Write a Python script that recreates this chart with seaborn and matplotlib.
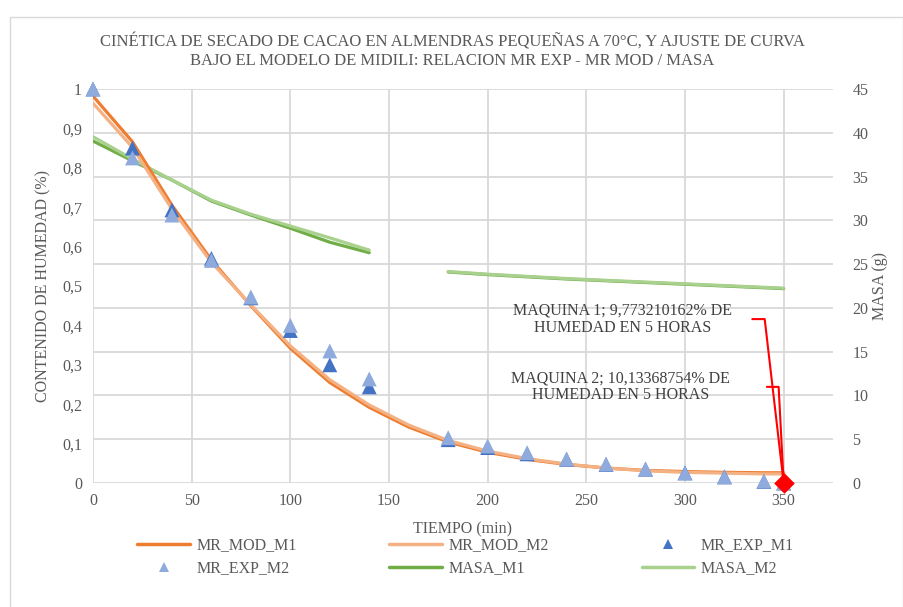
import numpy as np
import pandas as pd
import seaborn as sns
import matplotlib.pyplot as plt
from matplotlib.lines import Line2D
from matplotlib.patches import Rectangle
from matplotlib.ticker import FuncFormatter, MultipleLocator

# datos
tiempo = [0, 20, 40, 60, 80, 100, 120, 140, 160, 180, 200, 220, 240, 260, 280, 300, 320, 340, 350]
mr_mod_m1 = [0.982, 0.866, 0.705, 0.566, 0.450, 0.342, 0.255, 0.192, 0.142, 0.104, 0.078,
             0.060, 0.047, 0.038, 0.032, 0.029, 0.027, 0.026, 0.026]
mr_mod_m2 = [0.964, 0.852, 0.695, 0.560, 0.452, 0.348, 0.262, 0.198, 0.147, 0.108, 0.081,
             0.062, 0.048, 0.038, 0.031, 0.027, 0.025, 0.023, 0.023]
mr_exp_m1 = [1.0, 0.850, 0.693, 0.570, 0.470, 0.387, 0.300, 0.244, np.nan, 0.110, 0.090,
             0.074, 0.060, 0.047, 0.035, 0.026, 0.016, 0.004, 0.0]
mr_exp_m2 = [1.0, 0.825, 0.680, 0.565, 0.472, 0.400, 0.335, 0.264, np.nan, 0.115, 0.094,
             0.077, 0.061, 0.048, 0.036, 0.025, 0.015, 0.005, 0.0]
masa_m1 = [39.06, 36.8, 34.6, 32.2, 30.6, 29.1, 27.5, 26.3, np.nan, 24.1, 23.8,
           23.55, 23.3, 23.1, 22.9, 22.7, 22.5, 22.3, 22.2]
masa_m2 = [39.55, 37.0, 34.6, 32.3, 30.7, 29.35, 28.0, 26.6, np.nan, 24.15, 23.85,
           23.6, 23.35, 23.15, 22.95, 22.75, 22.55, 22.35, 22.25]

texto_m1 = "MAQUINA 1; 9,773210162% DE\nHUMEDAD EN 5 HORAS"
texto_m2 = "MAQUINA 2; 10,13368754% DE\nHUMEDAD EN 5 HORAS"
titulo = ("CINÉTICA DE SECADO DE CACAO EN ALMENDRAS PEQUEÑAS A 70°C, Y AJUSTE DE CURVA\n"
          "BAJO EL MODELO DE MIDILI: RELACION MR EXP - MR MOD / MASA")

colores = {
    "MR_MOD_M1": "#ED7D31", "MR_MOD_M2": "#F4B183",
    "MR_EXP_M1": "#4472C4", "MR_EXP_M2": "#8FAADC",
    "MASA_M1": "#70AD47", "MASA_M2": "#A9D18E",
}
gris = "#595959"

sns.set_theme(style="white")
plt.rcParams["font.family"] = ["Liberation Serif", "DejaVu Serif"]

t = np.array(tiempo)
tramo = np.where(t <= 150, 1, 2)

df_mod = pd.concat([
    pd.DataFrame({"tiempo": t, "mr": mr_mod_m1, "serie": "MR_MOD_M1"}),
    pd.DataFrame({"tiempo": t, "mr": mr_mod_m2, "serie": "MR_MOD_M2"}),
])
df_exp = pd.concat([
    pd.DataFrame({"tiempo": t, "mr": mr_exp_m1, "serie": "MR_EXP_M1"}),
    pd.DataFrame({"tiempo": t, "mr": mr_exp_m2, "serie": "MR_EXP_M2"}),
]).dropna()
df_masa = pd.concat([
    pd.DataFrame({"tiempo": t, "masa": masa_m1, "serie": "MASA_M1", "tramo": tramo}),
    pd.DataFrame({"tiempo": t, "masa": masa_m2, "serie": "MASA_M2", "tramo": tramo}),
]).dropna()

fig = plt.figure(figsize=(9.04, 6.07), dpi=100)
ax = fig.add_axes([93 / 904, 1 - 483 / 607, 740 / 904, 394 / 607])
ax2 = ax.twinx()

# ax2 queda debajo: rejilla y masas
ax.set_zorder(ax2.get_zorder() + 1)
ax.patch.set_visible(False)
ax2.patch.set_visible(True)
ax2.patch.set_facecolor("white")

sns.lineplot(data=df_masa, x="tiempo", y="masa", hue="serie", units="tramo", estimator=None,
             palette=colores, lw=2.3, legend=False, sort=False, ax=ax2)
sns.lineplot(data=df_mod, x="tiempo", y="mr", hue="serie", estimator=None,
             palette=colores, lw=2.3, legend=False, ax=ax)
sns.scatterplot(data=df_exp, x="tiempo", y="mr", hue="serie", palette=colores, marker="^",
                s=115, linewidth=0, legend=False, ax=ax, zorder=4, clip_on=False)
sns.scatterplot(x=[tiempo[-1]], y=[mr_exp_m1[-1]], color="#FF0000", marker="D", s=110,
                linewidth=0, ax=ax, zorder=6, clip_on=False)

ax.annotate(texto_m1, xy=(tiempo[-1], mr_exp_m1[-1]), xytext=(268.5, 0.416), ha="center",
            va="center", color="#404040", fontsize=11.5, zorder=5, linespacing=1.1,
            arrowprops=dict(arrowstyle="-", color="#FF0000", lw=1.5, shrinkA=12, shrinkB=0,
                            connectionstyle="angle,angleA=0,angleB=96.6,rad=0"))
ax.annotate(texto_m2, xy=(tiempo[-1], mr_exp_m2[-1]), xytext=(267.5, 0.244), ha="center",
            va="center", color="#404040", fontsize=11.5, zorder=5, linespacing=1.1,
            arrowprops=dict(arrowstyle="-", color="#FF0000", lw=1.5, shrinkA=24, shrinkB=0,
                            connectionstyle="angle,angleA=0,angleB=93,rad=0"))

ax.set_xlim(0, 375)
ax.set_ylim(0, 1)
ax2.set_ylim(0, 45)
ax.set_xticks(range(0, 351, 50))
ax.yaxis.set_major_locator(MultipleLocator(0.1))
ax2.yaxis.set_major_locator(MultipleLocator(5))
ax.yaxis.set_major_formatter(FuncFormatter(lambda v, p: f"{v:g}".replace(".", ",")))

# rejilla en el eje de abajo
ax2.xaxis.set_visible(True)
ax2.set_xticks(range(0, 351, 50))
ax2.set_xlabel("")
ax2.tick_params(axis="x", labelbottom=False, length=0)
ax2.grid(True, color="#D9D9D9", lw=1.3)
ax.grid(False)
for a in (ax, ax2):
    for s in a.spines.values():
        s.set_visible(False)

ax.tick_params(axis="both", length=0, labelsize=11.5, colors=gris)
ax.tick_params(axis="y", pad=8)
ax.tick_params(axis="x", pad=7)
ax2.tick_params(axis="y", length=0, labelsize=11.5, colors=gris, pad=14)

ax.set_xlabel("TIEMPO (min)", fontsize=11.5, color=gris, va="center")
ax.xaxis.set_label_coords(0.5, -0.119)
ax.set_ylabel("CONTENIDO DE HUMEDAD (%)", fontsize=11.5, color=gris, va="center")
ax.yaxis.set_label_coords(-0.0676, 0.5)
ax2.set_ylabel("MASA (g)", fontsize=11.5, color=gris, va="center")
ax2.yaxis.set_label_coords(1.0635, 0.5)

fig.suptitle(titulo, y=1 - 51 / 607, va="center", fontsize=12, color=gris, linespacing=1.2)

orden = ["MR_MOD_M1", "MR_EXP_M2", "MR_MOD_M2", "MASA_M1", "MR_EXP_M1", "MASA_M2"]
handles = []
for nombre in orden:
    if "EXP" in nombre:
        handles.append(Line2D([], [], ls="none", marker="^", ms=7, mew=0, color=colores[nombre]))
    else:
        handles.append(Line2D([], [], lw=2.5, color=colores[nombre]))
fig.legend(handles, orden, ncol=3, loc="center", bbox_to_anchor=(0.515, 1 - 557 / 607),
           frameon=False, fontsize=11.5, labelcolor=gris, handlelength=3.3, handletextpad=0.4,
           columnspacing=5.8, labelspacing=0.45)

fig.add_artist(Rectangle((10 / 904, -0.01), 893 / 904, 1 - 17 / 607 + 0.01,
                         transform=fig.transFigure, fill=False, edgecolor="#D9D9D9", lw=1))

fig.savefig("out.png", dpi=100)
